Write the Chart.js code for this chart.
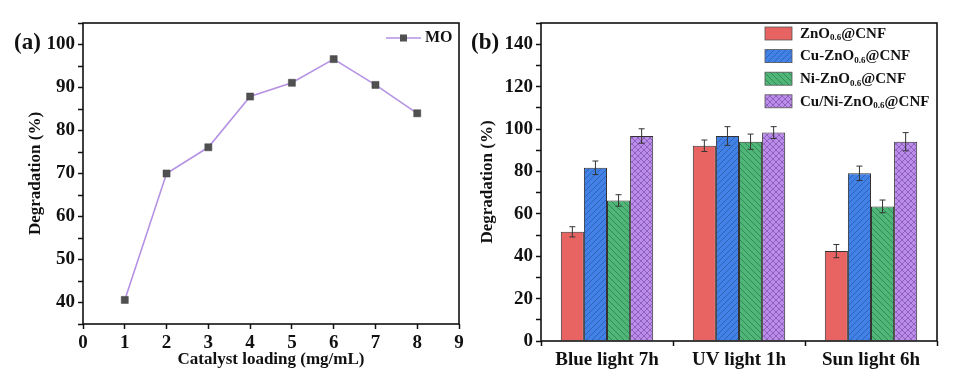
<!DOCTYPE html>
<html>
<head>
<meta charset="utf-8">
<script src="https://cdn.jsdelivr.net/npm/chart.js@4.4.0/dist/chart.umd.min.js"></script>
<style>
  html, body { margin: 0; padding: 0; background: #fff; }
  #wrap { position: relative; width: 972px; height: 378px; }
  #boxA { position: absolute; left: 0; top: 0; width: 470px; height: 378px; }
  #boxB { position: absolute; left: 470px; top: 0; width: 502px; height: 378px; }
</style>
</head>
<body>
<div id="wrap">
  <div id="boxA"><canvas id="chartA"></canvas></div>
  <div id="boxB"><canvas id="chartB"></canvas></div>
</div>
<script>
// panel (a): degradation vs catalyst loading
const loading = [1, 2, 3, 4, 5, 6, 7, 8];
const moDegradation = [40.6, 70.0, 76.1, 87.9, 91.1, 96.6, 90.6, 84.0];

// panel (b): degradation under different light sources
const conditions = ['Blue light 7h', 'UV light 1h', 'Sun light 6h'];
const znoDeg = [51.5, 92.1, 42.4];
const znoErr = [2.4, 2.7, 3.1];
const cuZnoDeg = [81.7, 96.7, 79.1];
const cuZnoErr = [3.2, 4.4, 3.4];
const niZnoDeg = [66.3, 94.0, 63.5];
const niZnoErr = [2.7, 3.6, 3.0];
const cuNiZnoDeg = [96.7, 98.3, 94.0];
const cuNiZnoErr = [3.4, 2.8, 4.3];

const SERIF = '"Liberation Serif", "Times New Roman", serif';
Chart.defaults.font.family = SERIF;
Chart.defaults.font.weight = 'bold';
Chart.defaults.color = '#111';

// hatch fills
function makePattern(base, line, kind) {
  const s = 6;
  const c = document.createElement('canvas');
  c.width = s; c.height = s;
  const ctx = c.getContext('2d');
  ctx.fillStyle = base;
  ctx.fillRect(0, 0, s, s);
  ctx.strokeStyle = line;
  ctx.lineWidth = 0.8;
  ctx.beginPath();
  if (kind === '/' || kind === 'x') {
    ctx.moveTo(0, s); ctx.lineTo(s, 0);
    ctx.moveTo(-1, 1); ctx.lineTo(1, -1);
    ctx.moveTo(s - 1, s + 1); ctx.lineTo(s + 1, s - 1);
  }
  if (kind === '\\' || kind === 'x') {
    ctx.moveTo(0, 0); ctx.lineTo(s, s);
    ctx.moveTo(-1, s - 1); ctx.lineTo(1, s + 1);
    ctx.moveTo(s - 1, -1); ctx.lineTo(s + 1, 1);
  }
  ctx.stroke();
  return c.getContext('2d').createPattern(c, 'repeat');
}

const frame = {
  id: 'frame',
  afterDatasetsDraw(c) {
    const { ctx, chartArea: a } = c;
    ctx.save();
    ctx.strokeStyle = '#111';
    ctx.lineWidth = 1.6;
    ctx.strokeRect(a.left, a.top, a.right - a.left, a.bottom - a.top);
    ctx.restore();
  }
};

function panelTag(text, x, y) {
  return {
    id: 'tag',
    afterDraw(c) {
      const ctx = c.ctx;
      ctx.save();
      ctx.font = 'bold 23px ' + SERIF;
      ctx.fillStyle = '#111';
      ctx.textBaseline = 'middle';
      ctx.fillText(text, x, y);
      ctx.restore();
    }
  };
}

const lineLegend = {
  id: 'lineLegend',
  afterDraw(c) {
    const ctx = c.ctx, a = c.chartArea, ds = c.data.datasets[0];
    const y = a.top + 15, x0 = a.right - 73;
    ctx.save();
    ctx.strokeStyle = ds.borderColor;
    ctx.lineWidth = ds.borderWidth;
    ctx.beginPath(); ctx.moveTo(x0, y); ctx.lineTo(x0 + 35, y); ctx.stroke();
    ctx.fillStyle = ds.pointBackgroundColor;
    ctx.fillRect(x0 + 14, y - 3.5, 7, 7);
    ctx.fillStyle = '#111';
    ctx.font = 'bold 16px ' + SERIF;
    ctx.textBaseline = 'middle';
    ctx.fillText(ds.label, x0 + 39, y);
    ctx.restore();
  }
};

const errorBars = {
  id: 'errorBars',
  afterDatasetsDraw(c) {
    const ctx = c.ctx, ys = c.scales.y;
    ctx.save();
    ctx.strokeStyle = '#333';
    ctx.lineWidth = 1;
    c.data.datasets.forEach((ds, i) => {
      c.getDatasetMeta(i).data.forEach((bar, j) => {
        const v = ds.data[j], e = ds.errors[j];
        const top = ys.getPixelForValue(v + e), bot = ys.getPixelForValue(v - e);
        ctx.beginPath();
        ctx.moveTo(bar.x, top); ctx.lineTo(bar.x, bot);
        ctx.moveTo(bar.x - 3, top); ctx.lineTo(bar.x + 3, top);
        ctx.moveTo(bar.x - 3, bot); ctx.lineTo(bar.x + 3, bot);
        ctx.stroke();
      });
    });
    ctx.restore();
  }
};

const barLegend = {
  id: 'barLegend',
  afterDraw(c) {
    const ctx = c.ctx, a = c.chartArea;
    const bx = a.right - 172;
    ctx.save();
    ctx.textBaseline = 'middle';
    c.data.datasets.forEach((ds, i) => {
      const y = a.top + 4 + i * 22.6;
      ctx.fillStyle = ds.backgroundColor;
      ctx.fillRect(bx, y, 27, 13);
      ctx.strokeStyle = '#555';
      ctx.lineWidth = 0.8;
      ctx.strokeRect(bx, y, 27, 13);
      ctx.fillStyle = '#111';
      let x = bx + 35;
      const cy = y + 7;
      ds.labelParts.forEach((p, k) => {
        ctx.font = (k === 1 ? 'bold 9px ' : 'bold 15px ') + SERIF;
        ctx.fillText(p, x, k === 1 ? cy + 4 : cy);
        x += ctx.measureText(p).width;
      });
    });
    ctx.restore();
  }
};

function tickGrid() {
  return {
    drawOnChartArea: false,
    tickLength: 5,
    color: '#111',
    tickWidth: 1.5
  };
}

new Chart(document.getElementById('chartA'), {
  type: 'line',
  data: {
    datasets: [{
      label: 'MO',
      data: loading.map((x, i) => ({ x, y: moDegradation[i] })),
      borderColor: '#b592e3',
      borderWidth: 1.6,
      pointStyle: 'rect',
      pointRadius: 5,
      pointBackgroundColor: '#505050',
      pointBorderColor: '#444',
      pointBorderWidth: 0.5,
      tension: 0
    }]
  },
  options: {
    animation: false,
    responsive: true,
    maintainAspectRatio: false,
    layout: { padding: { top: 23, right: 11, left: 0, bottom: 0 } },
    plugins: { legend: { display: false }, tooltip: { enabled: false } },
    scales: {
      x: {
        type: 'linear', min: 0, max: 9,
        ticks: { stepSize: 1, padding: 3, font: { size: 19 }, color: '#111' },
        grid: tickGrid(),
        border: { display: false },
        title: { display: true, text: 'Catalyst loading (mg/mL)', font: { size: 17 }, padding: { bottom: 8 } },
        afterFit: s => { s.height = 54; }
      },
      y: {
        min: 35, max: 105,
        ticks: { stepSize: 5, autoSkip: false, padding: 3, font: { size: 19 }, color: '#111',
                 callback: v => (v % 10 === 0 ? v : '') },
        grid: tickGrid(),
        border: { display: false },
        title: { display: true, text: 'Degradation (%)', font: { size: 17 }, padding: { top: 25 } },
        afterFit: s => { s.width = 83; }
      }
    }
  },
  plugins: [frame, panelTag('(a)', 14, 43), lineLegend]
});

new Chart(document.getElementById('chartB'), {
  type: 'bar',
  data: {
    labels: conditions,
    datasets: [
      { label: 'ZnO0.6@CNF', labelParts: ['ZnO', '0.6', '@CNF'], data: znoDeg, errors: znoErr,
        backgroundColor: '#e86462' },
      { label: 'Cu-ZnO0.6@CNF', labelParts: ['Cu-ZnO', '0.6', '@CNF'], data: cuZnoDeg, errors: cuZnoErr,
        backgroundColor: makePattern('#4282e6', '#2a5cae', '/') },
      { label: 'Ni-ZnO0.6@CNF', labelParts: ['Ni-ZnO', '0.6', '@CNF'], data: niZnoDeg, errors: niZnoErr,
        backgroundColor: makePattern('#4fb678', '#2d7d4e', '\\') },
      { label: 'Cu/Ni-ZnO0.6@CNF', labelParts: ['Cu/Ni-ZnO', '0.6', '@CNF'], data: cuNiZnoDeg, errors: cuNiZnoErr,
        backgroundColor: makePattern('#bb8ce9', '#8158b0', 'x') }
    ].map(d => Object.assign(d, { borderColor: '#333', borderWidth: 1, categoryPercentage: 0.7, barPercentage: 1 }))
  },
  options: {
    animation: false,
    responsive: true,
    maintainAspectRatio: false,
    layout: { padding: { top: 23, right: 35, left: 0, bottom: 0 } },
    plugins: { legend: { display: false }, tooltip: { enabled: false } },
    scales: {
      x: {
        ticks: { padding: 3, font: { size: 19 }, color: '#111' },
        grid: Object.assign(tickGrid(), { offset: true }),
        border: { display: false },
        afterFit: s => { s.height = 37; }
      },
      y: {
        min: 0, max: 150,
        ticks: { stepSize: 10, autoSkip: false, padding: 3, font: { size: 19 }, color: '#111',
                 callback: v => (v % 20 === 0 ? v : '') },
        grid: tickGrid(),
        border: { display: false },
        title: { display: true, text: 'Degradation (%)', font: { size: 17 }, padding: { top: 7 } },
        afterFit: s => { s.width = 71; }
      }
    }
  },
  plugins: [frame, errorBars, panelTag('(b)', 1, 43), barLegend]
});
</script>
</body>
</html>
